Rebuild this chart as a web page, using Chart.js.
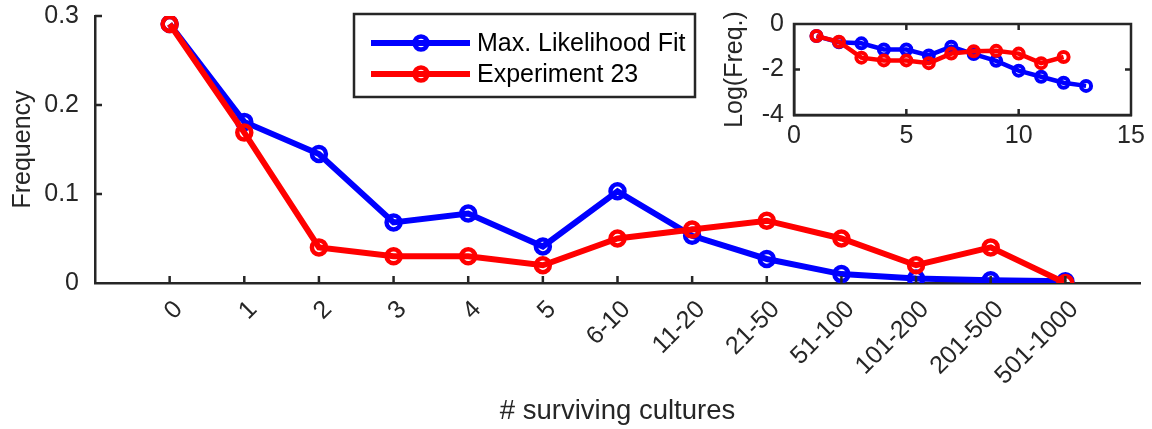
<!DOCTYPE html>
<html>
<head>
<meta charset="utf-8">
<script src="https://cdn.jsdelivr.net/npm/chart.js@4"></script>
<style>
  html, body { margin: 0; padding: 0; background: #ffffff; }
  #wrap { position: relative; width: 1152px; height: 429px; }
  #main { position: absolute; left: 0; top: 0; }
  #inset { position: absolute; left: 700px; top: 0; }
</style>
</head>
<body>
<div id="wrap">
  <canvas id="main" width="1152" height="429"></canvas>
  <canvas id="inset" width="452" height="160"></canvas>
</div>
<script>
// ---- data ----
const categories = ['0','1','2','3','4','5','6-10','11-20','21-50','51-100','101-200','201-500','501-1000'];
const fitValues = [0.291, 0.181, 0.145, 0.068, 0.078, 0.041, 0.103, 0.053, 0.027, 0.010, 0.005, 0.003, 0.002];
const expValues = [0.291, 0.169, 0.040, 0.030, 0.030, 0.020, 0.050, 0.060, 0.070, 0.050, 0.020, 0.040, 0.000];
const yTicks = [0, 0.1, 0.2, 0.3];

const insetX = [1,2,3,4,5,6,7,8,9,10,11,12,13];
const insetFit = [-0.53, -0.80, -0.85, -1.12, -1.12, -1.38, -1.00, -1.32, -1.62, -2.05, -2.32, -2.58, -2.72];
const insetExp = [-0.53, -0.78, -1.48, -1.60, -1.60, -1.72, -1.30, -1.20, -1.18, -1.30, -1.72, -1.45];
const insetXTicks = [0, 5, 10, 15];
const insetYTicks = [0, -2, -4];

const seriesNames = ['Max. Likelihood Fit', 'Experiment 23'];
const BLUE = '#0000ff', RED = '#ff0000', AXIS = '#262626';
const FONT = "'Liberation Sans', Arial, Helvetica, sans-serif";

Chart.defaults.font.family = FONT;
Chart.defaults.color = AXIS;
Chart.defaults.animation = false;

function pts(xs, ys) { return ys.map((v, i) => ({ x: xs[i], y: v })); }
function noPad(s) { s.paddingTop = 0; s.paddingBottom = 0; s.paddingLeft = 0; s.paddingRight = 0; }

// inward ticks plugin
const inwardTicks = {
  id: 'inwardTicks',
  afterDraw(chart, args, opts) {
    const ctx = chart.ctx, a = chart.chartArea;
    const xs = chart.scales.x, ys = chart.scales.y;
    ctx.save();
    ctx.strokeStyle = AXIS;
    ctx.lineWidth = opts.width || 2.5;
    const L = opts.len || 7;
    ctx.beginPath();
    (opts.xVals || []).forEach(v => {
      const px = xs.getPixelForValue(v);
      ctx.moveTo(px, a.bottom); ctx.lineTo(px, a.bottom - L);
      if (opts.box) { ctx.moveTo(px, a.top); ctx.lineTo(px, a.top + L); }
    });
    (opts.yVals || []).forEach(v => {
      const py = ys.getPixelForValue(v);
      ctx.moveTo(a.left, py); ctx.lineTo(a.left + L, py);
      if (opts.box) { ctx.moveTo(a.right, py); ctx.lineTo(a.right - L, py); }
    });
    ctx.stroke();
    if (opts.box) {
      ctx.strokeRect(a.left, a.top, a.right - a.left, a.bottom - a.top);
    }
    ctx.restore();
  }
};

// legend box plugin
const legendBox = {
  id: 'legendBox',
  afterDraw(chart) {
    const ctx = chart.ctx;
    const bx = 354, by = 14, bw = 341, bh = 83;
    ctx.save();
    ctx.fillStyle = '#ffffff';
    ctx.fillRect(bx, by, bw, bh);
    ctx.strokeStyle = AXIS;
    ctx.lineWidth = 2.5;
    ctx.strokeRect(bx, by, bw, bh);
    const rows = [
      { ds: chart.data.datasets.find(d => d.label === seriesNames[0]), y: 43 },
      { ds: chart.data.datasets.find(d => d.label === seriesNames[1]), y: 74 }
    ];
    rows.forEach(r => {
      ctx.strokeStyle = r.ds.borderColor;
      ctx.lineWidth = 6;
      ctx.beginPath(); ctx.moveTo(371, r.y); ctx.lineTo(470, r.y); ctx.stroke();
      ctx.lineWidth = 4.5;
      ctx.beginPath(); ctx.arc(421, r.y, 6.5, 0, Math.PI * 2); ctx.stroke();
      ctx.fillStyle = '#000000';
      ctx.font = '25px ' + FONT;
      ctx.textBaseline = 'middle';
      ctx.textAlign = 'left';
      ctx.fillText(r.ds.label, 477, r.y + 1);
    });
    ctx.restore();
  }
};

const mainChart = new Chart(document.getElementById('main'), {
  type: 'line',
  data: {
    datasets: [
      { label: seriesNames[0], data: pts(categories.map((c, i) => i), fitValues), borderColor: BLUE, backgroundColor: 'rgba(0,0,0,0)',
        borderWidth: 6, pointRadius: 7, pointBorderWidth: 4.5, pointBackgroundColor: 'rgba(0,0,0,0)', pointBorderColor: BLUE, order: 2 },
      { label: seriesNames[1], data: pts(categories.map((c, i) => i), expValues), borderColor: RED, backgroundColor: 'rgba(0,0,0,0)',
        borderWidth: 6, pointRadius: 7, pointBorderWidth: 4.5, pointBackgroundColor: 'rgba(0,0,0,0)', pointBorderColor: RED, order: 1 }
    ]
  },
  options: {
    responsive: false,
    layout: { padding: { left: 0, top: 16, right: 12, bottom: 0 } },
    plugins: {
      legend: { display: false },
      tooltip: { enabled: false },
      inwardTicks: { xVals: categories.map((c, i) => i), yVals: yTicks.slice(1), len: 7, width: 2.5 }
    },
    scales: {
      x: {
        type: 'linear', min: -1, max: categories.length,
        afterFit(s) { s.height = 146; noPad(s); },
        afterBuildTicks(s) { s.ticks = categories.map((c, i) => ({ value: i })); },
        ticks: {
          autoSkip: false, minRotation: 45, maxRotation: 45, padding: 12, labelOffset: 9,
          font: { size: 25 }, color: AXIS,
          callback: (v) => categories[v] !== undefined ? categories[v] : ''
        },
        grid: { drawOnChartArea: false, drawTicks: false },
        border: { display: true, color: AXIS, width: 2.5 },
        title: { display: true, text: '# surviving cultures', font: { size: 27.5 }, color: AXIS, padding: { top: 0, bottom: 1 } }
      },
      y: {
        min: 0, max: 0.3,
        afterFit(s) { s.width = 95; noPad(s); },
        afterBuildTicks(s) { s.ticks = yTicks.map(v => ({ value: v })); },
        ticks: { font: { size: 25 }, color: AXIS, padding: 16, callback: (v) => String(Math.round(v * 10) / 10) },
        grid: { drawOnChartArea: false, drawTicks: false },
        border: { display: true, color: AXIS, width: 2.5 },
        title: { display: true, text: 'Frequency', font: { size: 25 }, color: AXIS, padding: { top: 8, bottom: 0 } }
      }
    }
  },
  plugins: [inwardTicks, legendBox]
});

const insetChart = new Chart(document.getElementById('inset'), {
  type: 'line',
  data: {
    datasets: [
      { label: seriesNames[0], data: pts(insetX, insetFit), borderColor: BLUE, backgroundColor: 'rgba(0,0,0,0)',
        borderWidth: 4.5, pointRadius: 5, pointBorderWidth: 4, pointBackgroundColor: 'rgba(0,0,0,0)', pointBorderColor: BLUE, order: 2 },
      { label: seriesNames[1], data: pts(insetX, insetExp), borderColor: RED, backgroundColor: 'rgba(0,0,0,0)',
        borderWidth: 4.5, pointRadius: 5, pointBorderWidth: 4, pointBackgroundColor: 'rgba(0,0,0,0)', pointBorderColor: RED, order: 1 }
    ]
  },
  options: {
    responsive: false,
    layout: { padding: { left: 0, top: 24, right: 21, bottom: 0 } },
    plugins: {
      legend: { display: false },
      tooltip: { enabled: false },
      inwardTicks: { xVals: [5, 10], yVals: [-2], len: 6, width: 2.5, box: true }
    },
    scales: {
      x: {
        type: 'linear', min: 0, max: 15,
        afterFit(s) { s.height = 45; noPad(s); },
        afterBuildTicks(s) { s.ticks = insetXTicks.map(v => ({ value: v })); },
        ticks: { font: { size: 25 }, color: AXIS, padding: 6, maxRotation: 0 },
        grid: { drawOnChartArea: false, drawTicks: false },
        border: { display: true, color: AXIS, width: 2.5 }
      },
      y: {
        min: -4, max: 0,
        afterFit(s) { s.width = 94; noPad(s); },
        afterBuildTicks(s) { s.ticks = insetYTicks.map(v => ({ value: v })); },
        ticks: { font: { size: 25 }, color: AXIS, padding: 10 },
        grid: { drawOnChartArea: false, drawTicks: false },
        border: { display: true, color: AXIS, width: 2.5 },
        title: { display: true, text: 'Log(Freq.)', font: { size: 25 }, color: AXIS, padding: { top: 20, bottom: 0 } }
      }
    }
  },
  plugins: [inwardTicks]
});
</script>
</body>
</html>
